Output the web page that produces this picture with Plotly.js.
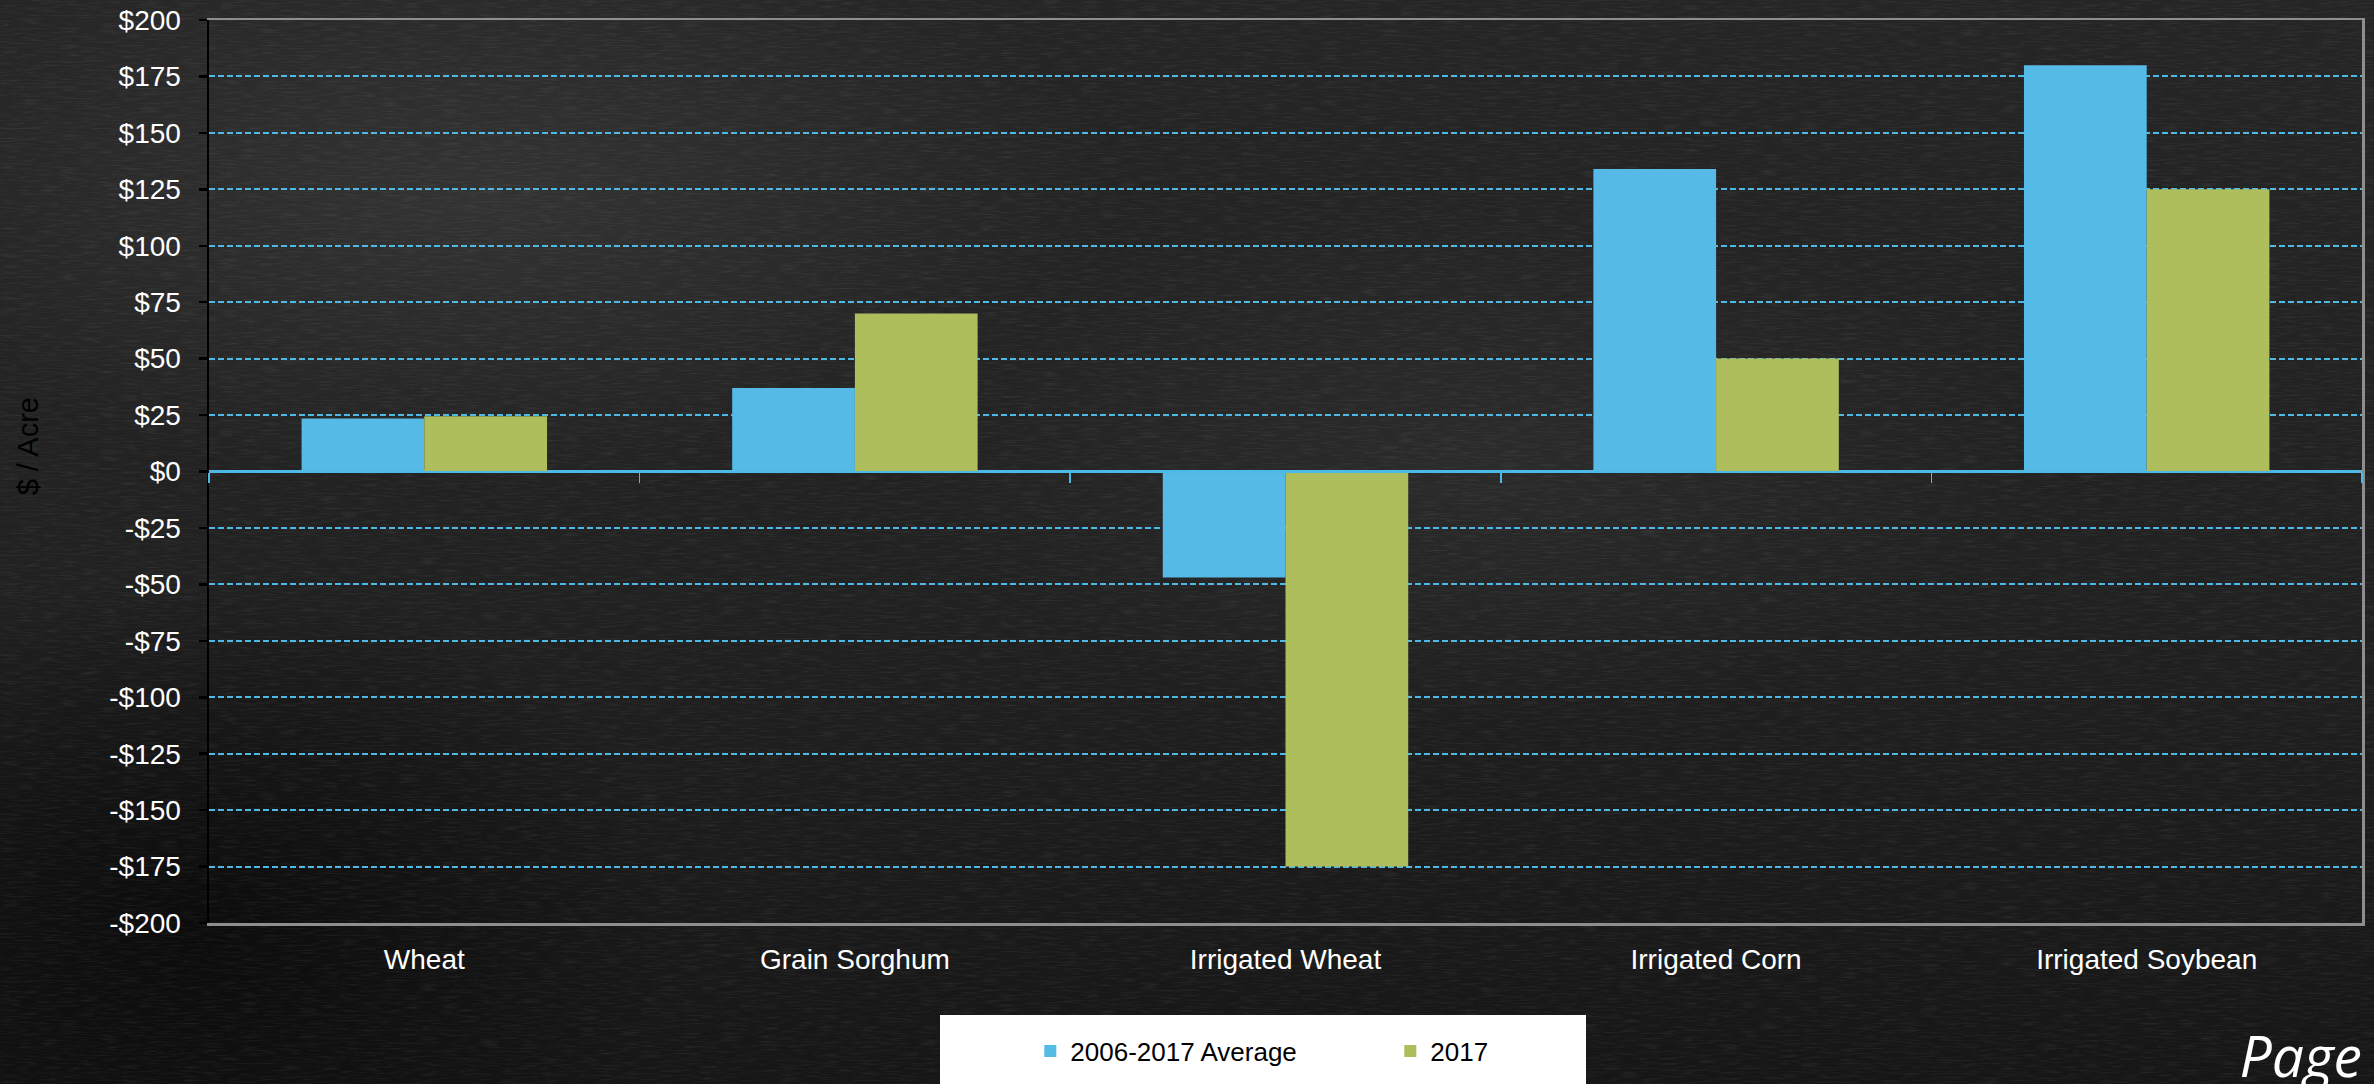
<!DOCTYPE html>
<html>
<head>
<meta charset="utf-8">
<script src="https://cdn.plot.ly/plotly-3.0.1.min.js"></script>
<style>
  html, body { margin: 0; padding: 0; width: 2374px; height: 1084px; overflow: hidden; }
  body {
    background:
      radial-gradient(ellipse 900px 420px at 20% 18%, rgba(70,70,70,0.45), rgba(0,0,0,0) 70%),
      radial-gradient(ellipse 800px 380px at 62% 42%, rgba(60,60,60,0.35), rgba(0,0,0,0) 70%),
      radial-gradient(ellipse 700px 500px at 8% 85%, rgba(0,0,0,0.55), rgba(0,0,0,0) 70%),
      linear-gradient(180deg, #252525 0%, #212121 55%, #161616 100%);
    position: relative;
  }
  #tex {
    position: absolute; left: 0; top: 0; width: 2374px; height: 1084px;
    background-image: url("data:image/svg+xml;utf8,<svg xmlns='http://www.w3.org/2000/svg' width='2374' height='1084'><filter id='n'><feTurbulence type='fractalNoise' baseFrequency='0.05 0.6' numOctaves='3' seed='4'/><feColorMatrix type='matrix' values='0 0 0 0 1  0 0 0 0 1  0 0 0 0 1  0 0 0 0.9 -0.4'/></filter><rect width='100%25' height='100%25' filter='url(%23n)'/></svg>");
    opacity: 0.16;
  }
  #legbox { position: absolute; left: 940px; top: 1015px; width: 646px; height: 80px; background: #ffffff; }
  #chart { position: absolute; left: 0; top: 0; width: 2374px; height: 1084px; }
  #page { position: absolute; right: 12px; top: 1027px; font-family: "Open Sans", sans-serif; font-style: italic; font-size: 57px; line-height: 1; color: #ffffff; }
</style>
</head>
<body>
<div id="tex"></div>
<div id="legbox"></div>
<div id="chart"></div>
<div id="page">Page</div>
<script>
// ---- data ----
const categories = ["Wheat", "Grain Sorghum", "Irrigated Wheat", "Irrigated Corn", "Irrigated Soybean"];
const seriesNames = ["2006-2017 Average", "2017"];
const avgValues = [23.5, 37, -47, 134, 180];
const y2017Values = [24.5, 70, -175, 50, 125];
const yTickValues = [-200, -175, -150, -125, -100, -75, -50, -25, 0, 25, 50, 75, 100, 125, 150, 175, 200];
const yTickLabels = yTickValues.map(v => (v < 0 ? "-$" : "$") + Math.abs(v));
const yAxisTitle = "$ / Acre";

const blue = "#55BAE6";
const green = "#AFBE5C";
const gridBlue = "#4DB9E6";
const font = "Liberation Sans, Arial, sans-serif";

const boundaries = categories.map((c, i) => i - 0.5).concat([categories.length - 0.5]);

const traces = [
  { type: "bar", name: seriesNames[0], x: categories, y: avgValues, marker: { color: blue, line: { width: 0 } }, hoverinfo: "skip" },
  { type: "bar", name: seriesNames[1], x: categories, y: y2017Values, marker: { color: green, line: { width: 0 } }, hoverinfo: "skip" },
  // empty helper trace so that the overlay axes (zero line with category ticks, right border) are drawn
  { type: "scatter", mode: "none", x: [], y: [], xaxis: "x2", yaxis: "y2", showlegend: false, hoverinfo: "skip" }
];

const layout = {
  width: 2374, height: 1084,
  margin: { l: 209, r: 12, t: 20, b: 161 },
  paper_bgcolor: "rgba(0,0,0,0)",
  plot_bgcolor: "rgba(0,0,0,0)",
  barmode: "group",
  bargap: 0.43,
  bargroupgap: 0,
  showlegend: true,
  font: { family: font, color: "#ffffff", size: 26 },
  xaxis: {
    type: "category",
    showgrid: false, zeroline: false,
    showline: true, linecolor: "#8e8e8e", linewidth: 2.5, mirror: true,
    ticks: "", ticklabelstandoff: 10,
    tickfont: { family: font, size: 28, color: "#ffffff" }
  },
  xaxis2: {
    overlaying: "x", anchor: "free", position: 0.5, side: "bottom",
    type: "linear", range: [-0.5, categories.length - 0.5], fixedrange: true,
    tickmode: "array", tickvals: boundaries,
    ticks: "outside", ticklen: 10, tickwidth: 1.5, tickcolor: gridBlue,
    showticklabels: false, showgrid: false, zeroline: false,
    showline: true, linecolor: gridBlue, linewidth: 2.5
  },
  yaxis: {
    range: [-200, 200], fixedrange: true,
    tickmode: "array", tickvals: yTickValues, ticktext: yTickLabels,
    showgrid: true, gridcolor: gridBlue, gridwidth: 2, griddash: "6px,3px",
    zeroline: true, zerolinecolor: gridBlue, zerolinewidth: 2.5,
    showline: true, linecolor: "#000000", linewidth: 2.5,
    ticks: "outside", ticklen: 8, tickwidth: 2.5, tickcolor: "#000000",
    ticklabelstandoff: 12,
    tickfont: { family: font, size: 28, color: "#ffffff" }
  },
  yaxis2: {
    overlaying: "y", side: "right", anchor: "x2",
    range: [-200, 200], fixedrange: true,
    showgrid: false, zeroline: false, showticklabels: false, ticks: "",
    showline: true, linecolor: "#8e8e8e", linewidth: 2.5
  },
  legend: {
    orientation: "h",
    xref: "container", yref: "container",
    x: 0.434, y: 0.052, xanchor: "left", yanchor: "top",
    bgcolor: "rgba(0,0,0,0)", borderwidth: 0,
    entrywidth: 315, entrywidthmode: "pixels",
    font: { family: font, size: 26, color: "#000000" },
    traceorder: "normal"
  },
  annotations: [
    {
      text: yAxisTitle, xref: "paper", yref: "paper",
      x: -0.084, y: 0.528, xanchor: "center", yanchor: "middle",
      textangle: -90, showarrow: false,
      font: { family: font, size: 29, color: "#000000" }
    }
  ]
};

Plotly.newPlot("chart", traces, layout, { displayModeBar: false, staticPlot: true });
</script>
</body>
</html>
